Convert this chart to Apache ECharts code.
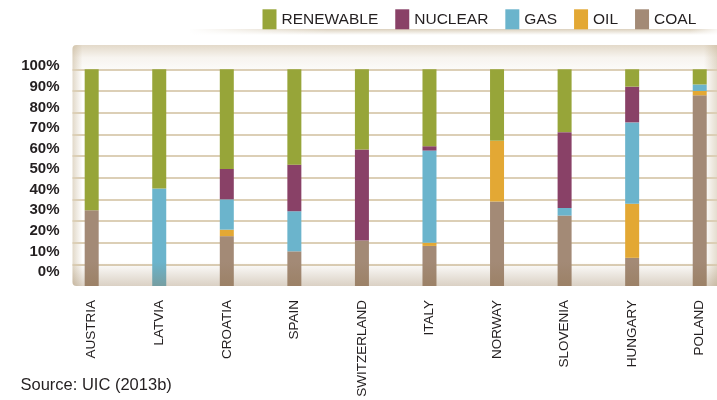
<!DOCTYPE html>
<html>
<head>
<meta charset="utf-8">
<script src="https://cdn.jsdelivr.net/npm/echarts@6/dist/echarts.min.js"></script>
<style>
html,body{margin:0;padding:0;background:#ffffff;}
#chart{width:717px;height:400px;}
</style>
</head>
<body>
<div id="chart"></div>
<script>
// ---- data ----
const categories = ['AUSTRIA','LATVIA','CROATIA','SPAIN','SWITZERLAND','ITALY','NORWAY','SLOVENIA','HUNGARY','POLAND'];
const coal      = [35,   0,  23, 16,   21, 18.5, 39, 32.5, 13,   88];
const oil       = [0,    0,   3,  0,    0,  1.5, 28,  0,   25,    2];
const gas       = [0,   45,  14, 18.5,  0, 42.5,  0,  3.5, 37.5,  3];
const nuclear   = [0,    0,  14, 21.5, 42,  2,    0, 35,   16.5,  0];
const renewable = [65,  55,  46, 44,   37, 35.5, 33, 29,    8,    7];
const legendOrder = ['RENEWABLE','NUCLEAR','GAS','OIL','COAL'];
const yTicks = {min: 0, max: 100, interval: 10};
const sourceText = 'Source: UIC (2013b)';

const colors = {
  COAL: '#a38a76', OIL: '#e3a834', GAS: '#6bb4cc', NUCLEAR: '#894167', RENEWABLE: '#97a539'
};

const chart = echarts.init(document.getElementById('chart'), null, {renderer: 'canvas'});

function barSeries(name, data) {
  return {
    name: name, type: 'bar', stack: 'mix', xAxisIndex: 1, yAxisIndex: 1,
    data: data, barWidth: 14, itemStyle: {color: colors[name]}, z: 3
  };
}

const option = {
  animation: false,
  backgroundColor: '#ffffff',
  legend: {
    data: legendOrder, left: 262.5, top: 9.3, padding: 0,
    itemWidth: 14, itemHeight: 20, itemGap: 17, icon: 'rect',
    textStyle: {fontFamily: 'Liberation Sans', fontSize: 15.5, color: '#231f20'}
  },
  grid: [
    {left: 72.5, right: 0, top: 69.3, bottom: 114, outerBoundsMode: 'none', containLabel: false},
    {left: 57.9, width: 675.6, top: 69.3, bottom: 114, outerBoundsMode: 'none', containLabel: false},
    {left: 59.5, width: 10, top: 66.3, bottom: 128, outerBoundsMode: 'none', containLabel: false}
  ],
  xAxis: [
    {gridIndex: 0, type: 'value', show: false, min: 0, max: 1},
    {gridIndex: 1, type: 'category', data: categories,
      axisLine: {show: false}, axisTick: {show: false},
      axisLabel: {rotate: 90, margin: 14, interval: 0, fontFamily: 'Liberation Sans', fontSize: 13.5, color: '#231f20'}},
    {gridIndex: 2, type: 'value', show: false, min: 0, max: 1}
  ],
  yAxis: [
    {gridIndex: 0, type: 'value', min: yTicks.min, max: yTicks.max, interval: yTicks.interval,
      axisLabel: {show: false}, axisLine: {show: false}, axisTick: {show: false},
      splitLine: {show: true, lineStyle: {width: 2,
        color: ['rgba(0,0,0,0)','#dccfb6','#dccfb6','#dccfb6','#dccfb6','#dccfb6','#dccfb6','#dccfb6','#dccfb6','#dccfb6','#dccfb6']}}},
    {gridIndex: 1, type: 'value', min: yTicks.min, max: yTicks.max, show: false, splitLine: {show: false}},
    {gridIndex: 2, type: 'value', min: yTicks.min, max: yTicks.max, interval: yTicks.interval,
      axisLine: {show: false}, axisTick: {show: false}, splitLine: {show: false},
      axisLabel: {margin: 0, formatter: '{value}%', fontFamily: 'Liberation Sans', fontWeight: 'bold', fontSize: 15, color: '#231f20'}}
  ],
  series: [
    barSeries('COAL', coal),
    barSeries('OIL', oil),
    barSeries('GAS', gas),
    barSeries('NUCLEAR', nuclear),
    barSeries('RENEWABLE', renewable),
    {type: 'line', xAxisIndex: 0, yAxisIndex: 0, data: [], silent: true},
    {type: 'line', xAxisIndex: 2, yAxisIndex: 2, data: [], silent: true}
  ],
  graphic: [
    // shadow under legend
    {type: 'rect', z: -5, shape: {x: 190, y: 29, width: 527, height: 6},
      style: {fill: new echarts.graphic.LinearGradient(0, 0, 0, 1, [
        {offset: 0, color: 'rgba(190,170,135,0.55)'}, {offset: 1, color: 'rgba(190,170,135,0)'}])}},
    {type: 'rect', z: -4, shape: {x: 188, y: 28, width: 140, height: 8},
      style: {fill: new echarts.graphic.LinearGradient(0, 0, 1, 0, [
        {offset: 0, color: 'rgba(255,255,255,1)'}, {offset: 1, color: 'rgba(255,255,255,0)'}])}},
    {type: 'rect', z: -4, shape: {x: 690, y: 28, width: 27, height: 8},
      style: {fill: new echarts.graphic.LinearGradient(0, 0, 1, 0, [
        {offset: 0, color: 'rgba(255,255,255,0)'}, {offset: 1, color: 'rgba(255,255,255,0.8)'}])}},
    // panel top band
    {type: 'rect', z: -5, shape: {x: 72.5, y: 45, width: 650, height: 25, r: [4, 0, 0, 0]},
      style: {fill: new echarts.graphic.LinearGradient(0, 0, 0, 1, [
        {offset: 0, color: 'rgba(200,180,148,0.5)'}, {offset: 0.5, color: 'rgba(200,180,148,0.15)'}, {offset: 1, color: 'rgba(200,180,148,0.05)'}])}},
    // left band
    {type: 'rect', z: -5, shape: {x: 72.5, y: 45, width: 10, height: 241, r: [4, 0, 0, 4]},
      style: {fill: new echarts.graphic.LinearGradient(0, 0, 1, 0, [
        {offset: 0, color: 'rgba(190,170,135,0.45)'}, {offset: 1, color: 'rgba(190,170,135,0)'}])}},
    // right band
    {type: 'rect', z: -5, shape: {x: 704, y: 45, width: 13, height: 241},
      style: {fill: new echarts.graphic.LinearGradient(0, 0, 1, 0, [
        {offset: 0, color: 'rgba(190,170,135,0)'}, {offset: 1, color: 'rgba(190,170,135,0.4)'}])}},
    // bottom band (drawn over bars)
    {type: 'rect', z: 100, silent: true, shape: {x: 72.5, y: 262, width: 650, height: 24, r: [0, 0, 0, 4]},
      style: {fill: new echarts.graphic.LinearGradient(0, 0, 0, 1, [
        {offset: 0, color: 'rgba(140,110,70,0)'}, {offset: 1, color: 'rgba(140,110,70,0.32)'}])}},
    // source
    {type: 'text', left: 20.5, top: 377, z: 10,
      style: {text: sourceText, fontFamily: 'Liberation Sans', fontSize: 16.5, fill: '#231f20'}}
  ]
};
chart.setOption(option);
</script>
</body>
</html>
